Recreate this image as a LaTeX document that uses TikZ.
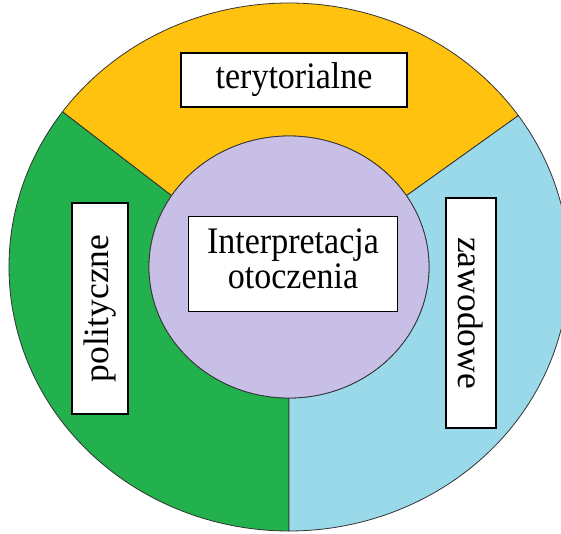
\documentclass[tikz,border=0pt]{standalone}
\usepackage{fontspec}
\setmainfont{Liberation Serif}
\definecolor{zolty}{HTML}{FFC20E}
\definecolor{zielony}{HTML}{22B14C}
\definecolor{niebieski}{HTML}{99D9EA}
\definecolor{lawenda}{HTML}{C8BFE7}
\newcommand{\wyzej}[1]{\scalebox{1}[1.1]{#1}}
\begin{document}
\begin{tikzpicture}[x=1pt, y=1pt,
    sektor/.style={draw=black!80, line width=0.8pt},
    etykieta/.style={draw, fill=white, line width=1.3pt, inner sep=0pt,
      font=\fontsize{34}{32}\selectfont, align=center},
    pionowa/.style={etykieta, font=\fontsize{35.5}{40}\selectfont}]
    \useasboundingbox (0,0) rectangle (561,533);
    \clip (0,0) rectangle (561,533);

    % Pierścień podzielony na trzy sektory
    \begin{scope}[shift={(289,266)}]
    \draw[sektor, fill=zolty] (147:140 and 131) -- (144:280 and 264)
        arc[start angle=144, end angle=35, x radius=280, y radius=264]
        -- (33:140 and 131)
        arc[start angle=33, end angle=147, x radius=140, y radius=131] -- cycle; % terytorialne
    \draw[sektor, fill=zielony] (147:140 and 131) -- (144:280 and 264)
        arc[start angle=144, end angle=270, x radius=280, y radius=264]
        -- (270:140 and 131)
        arc[start angle=270, end angle=147, x radius=140, y radius=131] -- cycle; % polityczne
    \draw[sektor, fill=niebieski] (33:140 and 131) -- (35:280 and 264)
        arc[start angle=35, end angle=-90, x radius=280, y radius=264]
        -- (-90:140 and 131)
        arc[start angle=-90, end angle=33, x radius=140, y radius=131] -- cycle; % zawodowe

    % Koło środkowe
    \draw[sektor, fill=lawenda] (0,0) ellipse [x radius=140, y radius=131];
    \end{scope}

    % Etykiety
    \node[etykieta, minimum width=226pt, minimum height=54pt] (teryt) at (294,453) {\wyzej{terytorialne}};
    \node[etykieta, minimum width=209pt, minimum height=95pt] (srodek) at (293,269)
        {\wyzej{\begin{tabular}{@{}c@{}}Interpretacja\\otoczenia\end{tabular}}};
    \node[pionowa, rotate=90, minimum width=211pt, minimum height=56pt] (polit) at (100,224.5) {polityczne};
    \node[pionowa, rotate=-90, minimum width=230pt, minimum height=50pt] (zawod) at (471,220) {zawodowe};
\end{tikzpicture}
\end{document}
